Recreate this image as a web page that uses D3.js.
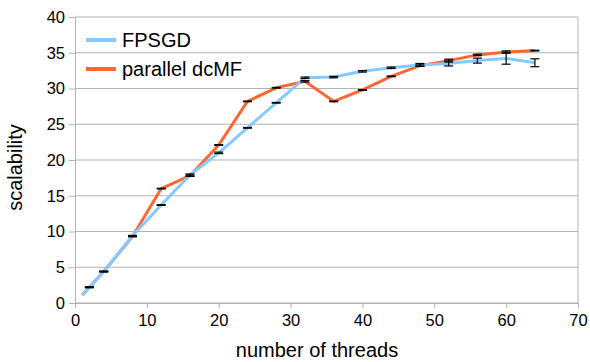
<!DOCTYPE html>
<html>
<head>
<meta charset="utf-8">
<script src="https://cdn.jsdelivr.net/npm/d3@7"></script>
<style>
  body { margin: 0; background: #fff; }
  svg text { font-family: "Liberation Sans", Arial, sans-serif; fill: #000; }
</style>
</head>
<body>
<div id="container"></div>
<script>
// DATA
const threads = [1, 2, 4, 8, 12, 16, 20, 24, 28, 32, 36, 40, 44, 48, 52, 56, 60, 64];
const fpsgd = [1.1, 2.2, 4.4, 9.4, 13.7, 17.9, 21.0, 24.5, 28.0, 31.5, 31.6, 32.4, 32.9, 33.3, 33.5, 33.9, 34.2, 33.6];
const fpsgdErr = [0, 0.05, 0.05, 0.05, 0.05, 0.15, 0.1, 0.05, 0.05, 0.1, 0.1, 0.1, 0.1, 0.2, 0.35, 0.35, 0.8, 0.55];
const dcmf = [1.1, 2.2, 4.4, 9.3, 16.0, 17.8, 22.1, 28.2, 30.1, 31.0, 28.2, 29.8, 31.7, 33.2, 33.9, 34.7, 35.1, 35.3];
const dcmfErr = [0, 0.05, 0.05, 0.05, 0.05, 0.1, 0.05, 0.05, 0.05, 0.1, 0.05, 0.05, 0.05, 0.1, 0.2, 0.1, 0.15, 0.05];
const xTicks = [0, 10, 20, 30, 40, 50, 60, 70];
const yTicks = [0, 5, 10, 15, 20, 25, 30, 35, 40];
const seriesNames = ["FPSGD", "parallel dcMF"];
const colors = ["#83caff", "#ff6633"];

// CONSTANTS
const width = 590, height = 362,
  margin = { top: 17, bottom: 59, left: 75, right: 12 };

const svg = d3.select("#container")
  .append("svg")
  .attr("width", width)
  .attr("height", height);

// SCALES
const xScale = d3.scaleLinear()
  .domain([0, 70])
  .range([margin.left, width - margin.right]);

const yScale = d3.scaleLinear()
  .domain([0, 40])
  .range([height - margin.bottom, margin.top]);

// GRID
svg.append("g")
  .selectAll("line")
  .data(yTicks)
  .join("line")
  .attr("x1", xScale(0))
  .attr("x2", xScale(70))
  .attr("y1", d => yScale(d))
  .attr("y2", d => yScale(d))
  .attr("stroke", "#b3b3b3")
  .attr("stroke-width", 1);

// right border
svg.append("line")
  .attr("x1", xScale(70)).attr("x2", xScale(70))
  .attr("y1", yScale(40)).attr("y2", yScale(0))
  .attr("stroke", "#b3b3b3");

// AXES
const xAxis = d3.axisBottom(xScale)
  .tickValues(xTicks)
  .tickSize(5)
  .tickSizeOuter(0)
  .tickPadding(4);

const xAxisGroup = svg.append("g")
  .attr("transform", `translate(0, ${yScale(0)})`)
  .call(xAxis);

const yAxis = d3.axisLeft(yScale)
  .tickValues(yTicks)
  .tickSize(6)
  .tickSizeOuter(0)
  .tickPadding(4);

const yAxisGroup = svg.append("g")
  .attr("transform", `translate(${xScale(0)}, 0)`)
  .call(yAxis);

[xAxisGroup, yAxisGroup].forEach(g => {
  g.select(".domain").attr("stroke", "#b3b3b3");
  g.selectAll(".tick line").attr("stroke", "#b3b3b3");
  g.selectAll(".tick text")
    .attr("font-family", "Liberation Sans, Arial, sans-serif")
    .attr("font-size", 16.5)
    .attr("fill", "#000");
});
xAxisGroup.selectAll(".tick text").attr("dy", "0.85em");

// AXIS TITLES
svg.append("text")
  .attr("x", 317)
  .attr("y", 357)
  .attr("text-anchor", "middle")
  .attr("font-size", 20)
  .text("number of threads");

svg.append("text")
  .attr("transform", "translate(22, 167.5) rotate(-90)")
  .attr("text-anchor", "middle")
  .attr("font-size", 20)
  .text("scalability");

// LINES
const line = d3.line()
  .x(d => xScale(d.x))
  .y(d => yScale(d.y));

const series = [
  { name: seriesNames[0], values: fpsgd, err: fpsgdErr, color: colors[0] },
  { name: seriesNames[1], values: dcmf, err: dcmfErr, color: colors[1] }
];

// orange first, blue on top as in the reference
[series[1], series[0]].forEach(s => {
  const pts = threads.map((t, i) => ({ x: t, y: s.values[i], e: s.err[i] }));
  svg.append("path")
    .datum(pts)
    .attr("fill", "none")
    .attr("stroke", s.color)
    .attr("stroke-width", 3)
    .attr("stroke-linejoin", "round")
    .attr("d", line);
});

// ERROR BARS
series.forEach(s => {
  const pts = threads.map((t, i) => ({ x: t, y: s.values[i], e: s.err[i] }))
    .filter(d => d.x > 1);
  const g = svg.append("g").attr("stroke", "#000").attr("stroke-width", 1.2);
  g.selectAll(".v")
    .data(pts)
    .join("line")
    .attr("x1", d => xScale(d.x)).attr("x2", d => xScale(d.x))
    .attr("y1", d => yScale(d.y - d.e)).attr("y2", d => yScale(d.y + d.e));
  g.selectAll(".top")
    .data(pts)
    .join("line")
    .attr("x1", d => xScale(d.x) - 4.5).attr("x2", d => xScale(d.x) + 4.5)
    .attr("y1", d => yScale(d.y + d.e)).attr("y2", d => yScale(d.y + d.e));
  g.selectAll(".bot")
    .data(pts)
    .join("line")
    .attr("x1", d => xScale(d.x) - 4.5).attr("x2", d => xScale(d.x) + 4.5)
    .attr("y1", d => yScale(d.y - d.e)).attr("y2", d => yScale(d.y - d.e));
});

// LEGEND
const legend = svg.append("g").attr("transform", "translate(86, 40)");
series.forEach((s, i) => {
  const row = legend.append("g").attr("transform", `translate(0, ${i * 29})`);
  row.append("line")
    .attr("x1", 0).attr("x2", 30)
    .attr("stroke", s.color)
    .attr("stroke-width", 4);
  row.append("text")
    .attr("x", 36)
    .attr("y", 7)
    .attr("font-size", 20)
    .text(s.name);
});
</script>
</body>
</html>
